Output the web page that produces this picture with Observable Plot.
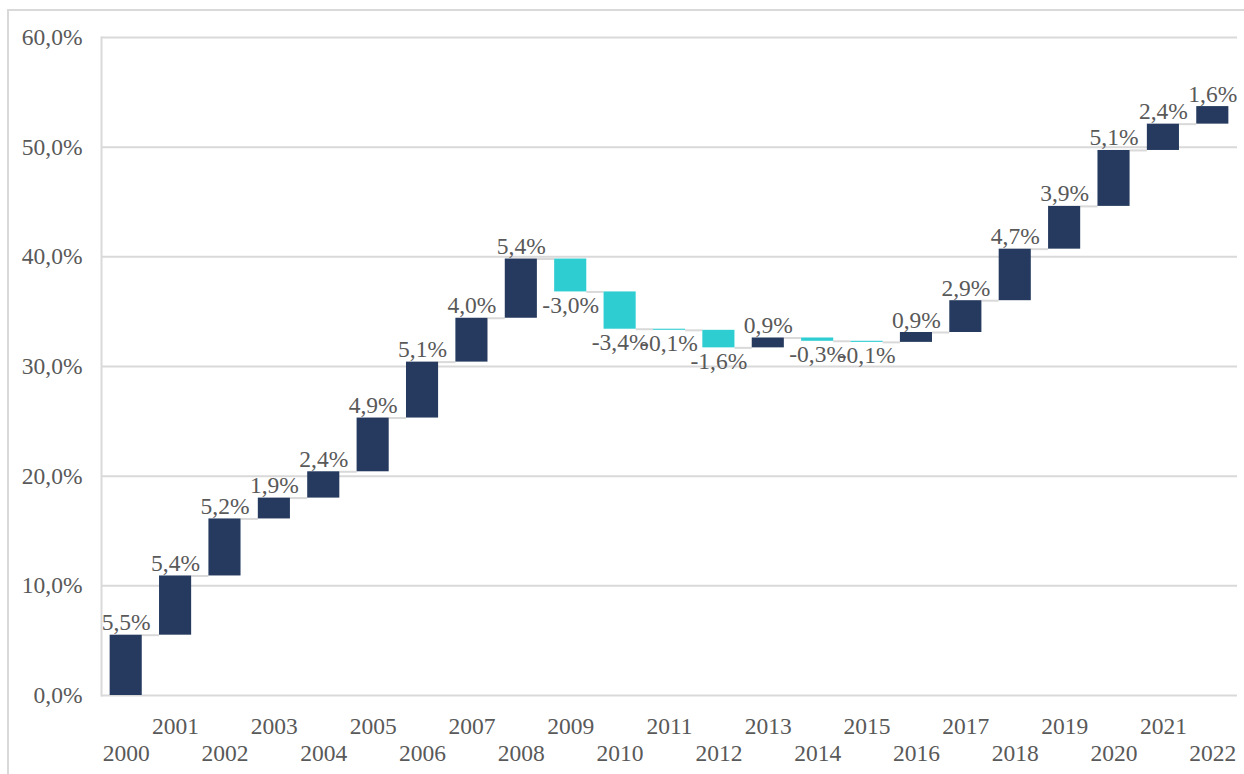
<!DOCTYPE html>
<html><head><meta charset="utf-8">
<script src="https://cdn.jsdelivr.net/npm/d3@7"></script>
<script src="https://cdn.jsdelivr.net/npm/@observablehq/plot@0.6"></script>
<style>
body{margin:0;background:#fff;overflow:hidden}
#frame{position:absolute;left:7px;top:9px;width:1300px;height:800px;border-left:2px solid #d9d9d9;border-top:2px solid #d9d9d9}
#chart{position:absolute;left:0;top:0}
</style></head><body><div id="frame"></div><div id="chart"></div>
<script>
const years = [2000,2001,2002,2003,2004,2005,2006,2007,2008,2009,2010,2011,2012,2013,2014,2015,2016,2017,2018,2019,2020,2021,2022];
const changes = [5.5,5.4,5.2,1.9,2.4,4.9,5.1,4.0,5.4,-3.0,-3.4,-0.1,-1.6,0.9,-0.3,-0.1,0.9,2.9,4.7,3.9,5.1,2.4,1.6];
const yTicks = [0,10,20,30,40,50,60];
const upColor = "#253a5e", downColor = "#2dcdd2", gridColor = "#d9d9d9", textColor = "#595959";

const fmt = v => v.toFixed(1).replace(".", ",") + "%";
let run = 0;
const rows = years.map((yr, i) => {
  const start = run;
  run = +(run + changes[i]).toFixed(1);
  return {year: String(yr), start, end: run, change: changes[i], label: fmt(changes[i])};
});
const connectors = rows.slice(0, -1).map((r, i) => ({x1: r.year, x2: rows[i + 1].year, y: r.end}));
const domain = years.map(String);
const W = 1244, H = 774, mL = 101, mR = 7, mT = 37, mB = 79;
const FS = 23.5;
const xOpts = {type: "band", domain, range: [mL, W - mR], paddingInner: 0.35, paddingOuter: 0.175, round: false};
const xs = Plot.scale({x: xOpts});
const bw = xs.bandwidth;

const plot = Plot.plot({
  width: W, height: H,
  marginLeft: mL, marginRight: mR, marginTop: mT, marginBottom: mB,
  style: {fontFamily: "'Liberation Serif','Times New Roman',serif", fontSize: FS + "px", color: textColor, background: "transparent"},
  x: {domain, paddingInner: 0.35, paddingOuter: 0.175, round: false, axis: null},
  y: {domain: [0, 60], axis: null},
  marks: [
    Plot.gridY(yTicks, {stroke: gridColor, strokeOpacity: 1, strokeWidth: 2}),
    Plot.frame({anchor: "left", stroke: gridColor, strokeWidth: 2}),
    Plot.axisY(yTicks, {tickSize: 0, tickPadding: 19, tickFormat: fmt, fontSize: FS}),
    Plot.axisX(domain.filter((d, i) => i % 2 === 1), {tickSize: 0, tickPadding: 22, fontSize: FS}),
    Plot.axisX(domain.filter((d, i) => i % 2 === 0), {tickSize: 0, tickPadding: 49, fontSize: FS}),
    Plot.ruleY(connectors, {x1: "x1", x2: "x2", y: "y", insetLeft: bw, insetRight: bw, stroke: gridColor, strokeWidth: 2}),
    Plot.barY(rows, {x: "year", y1: "start", y2: "end", fill: d => d.change >= 0 ? upColor : downColor}),
    Plot.text(rows.filter(d => d.change >= 0), {x: "year", y: "end", text: "label", lineAnchor: "bottom", dy: -5, fill: textColor, fontSize: FS}),
    Plot.text(rows.filter(d => d.change < 0), {x: "year", y: "end", text: "label", lineAnchor: "top", dy: 4, fill: textColor, fontSize: FS})
  ]
});
document.getElementById("chart").appendChild(plot);
</script></body></html>
